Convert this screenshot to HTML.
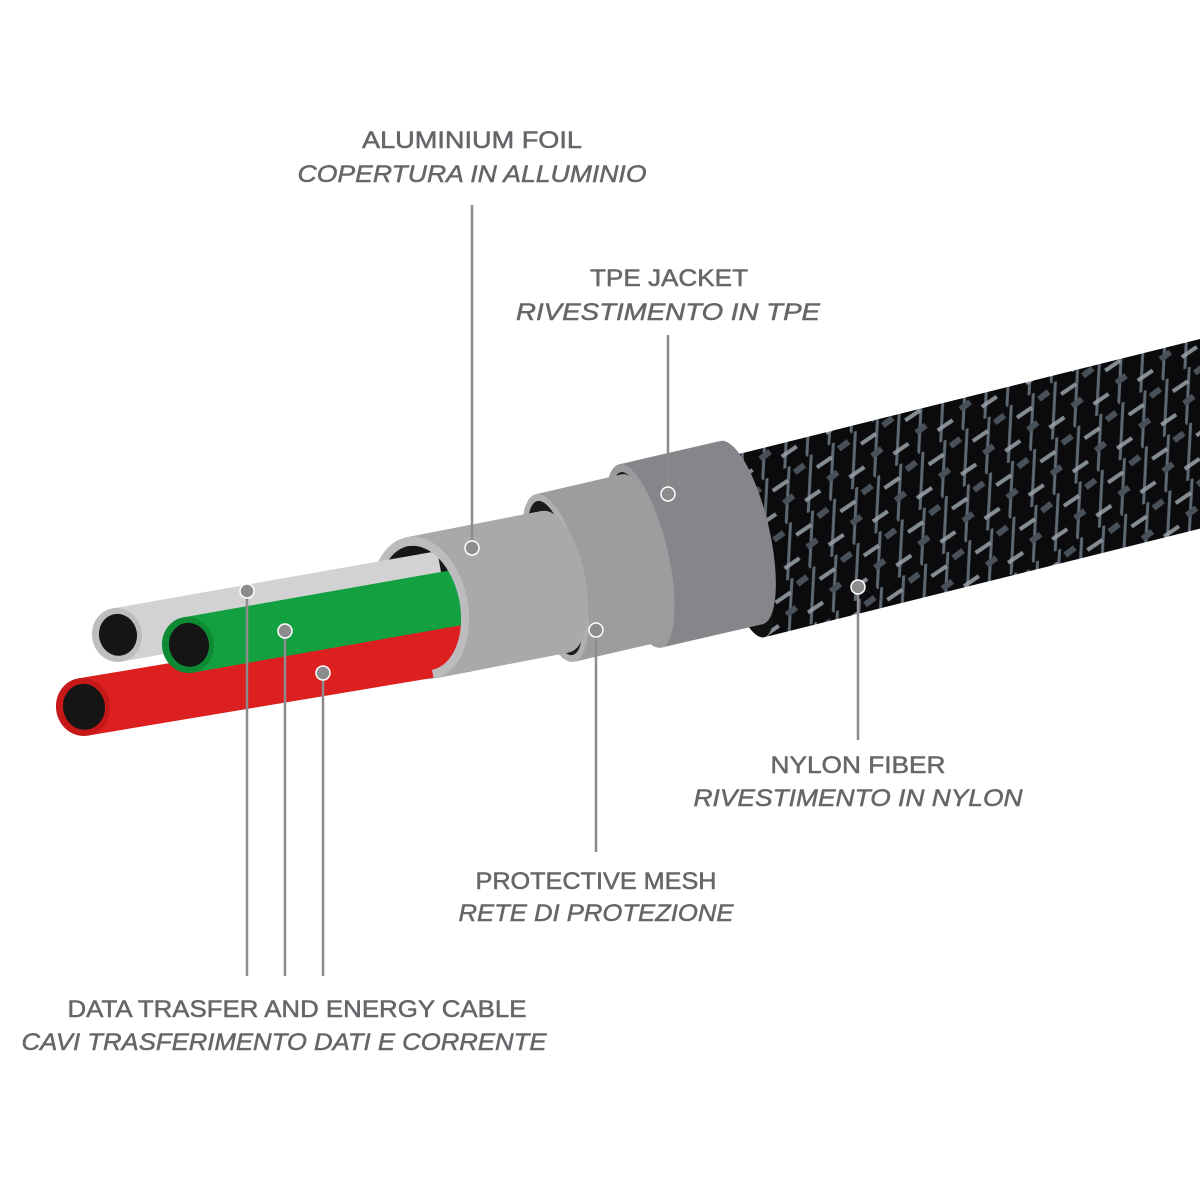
<!DOCTYPE html>
<html><head><meta charset="utf-8"><style>
html,body{margin:0;padding:0;background:#fff;}
svg{display:block;}
text{font-family:"Liberation Sans",sans-serif;font-size:24px;fill:#65666a;stroke:#65666a;stroke-width:0.5;text-anchor:middle;}
.i{font-style:italic;}
</style></head><body>
<svg width="1200" height="1200" viewBox="0 0 1200 1200" xmlns="http://www.w3.org/2000/svg">
<defs>
<pattern id="braid" width="50" height="50" patternUnits="userSpaceOnUse" patternTransform="rotate(-14)">
<rect width="50" height="50" fill="#0b0b0d"/>
<path d="M0,50 L30,0 M25,50 L55,0 M-25,50 L5,0" stroke="#5e6872" stroke-width="3" fill="none"/>
<path d="M4,14 L22,12 M28,38 L46,36" stroke="#9aa4ac" stroke-width="4" fill="none" opacity="0.85"/>
<path d="M8,30 L20,28 M32,8 L44,6" stroke="#48505a" stroke-width="6" fill="none"/>
</pattern>
<mask id="hm" maskUnits="userSpaceOnUse" x="0" y="0" width="1200" height="1200">
<rect width="1200" height="1200" fill="#fff"/>
<ellipse cx="0" cy="0" rx="40" ry="63" fill="#000" transform="translate(420,608) rotate(-11)"/>
</mask>
</defs>

<!-- jacket -->
<g transform="translate(742,548) rotate(-14)">
<rect x="0" y="-92" width="560" height="184" fill="url(#braid)"/>
<ellipse cx="0" cy="0" rx="24" ry="92" fill="#111"/>
</g>
<!-- TPE ring -->
<g transform="translate(640,556) rotate(-13)">
<rect x="0" y="-94" width="104" height="188" fill="#86868a"/>
<ellipse cx="104" cy="0" rx="28" ry="94" fill="#86868a"/>
<ellipse cx="0" cy="0" rx="28" ry="94" fill="#9a9a9c"/>
<ellipse cx="0" cy="0" rx="22" ry="86" fill="#1a1a1a"/>
</g>
<!-- mesh ring -->
<g transform="translate(555,578) rotate(-13)">
<rect x="0" y="-86" width="88" height="172" fill="#9d9d9f"/>
<ellipse cx="88" cy="0" rx="28" ry="86" fill="#9d9d9f"/>
<ellipse cx="0" cy="0" rx="28" ry="86" fill="#b0b0b2"/>
<ellipse cx="0" cy="0" rx="22" ry="79" fill="#1a1a1a"/>
</g>
<!-- foil -->
<g transform="translate(420,608) rotate(-11)">
<rect x="0" y="-72" width="138" height="144" fill="#a9a9ab"/>
<ellipse cx="138" cy="0" rx="30" ry="72" fill="#a9a9ab"/>
<ellipse cx="0" cy="0" rx="48" ry="72" fill="#bcbcbe"/>
<ellipse cx="0" cy="0" rx="40" ry="63" fill="#161616"/>
</g>

<!-- wires -->
<g transform="translate(117,635) rotate(-10)">
<rect x="0" y="-27" width="330" height="54" fill="#d2d2d4"/>
<ellipse cx="0" cy="0" rx="25" ry="27" fill="#bdbdbf"/>
<ellipse cx="1" cy="0" rx="19" ry="21" fill="#151515"/>
</g>
<g transform="translate(83,707) rotate(-9.5)">
<rect x="0" y="-29" width="390" height="58" fill="#dc1f1f"/>
<ellipse cx="0" cy="0" rx="27" ry="29" fill="#c61818"/>
<ellipse cx="1" cy="0" rx="21" ry="23" fill="#151515"/>
</g>
<g transform="translate(188,645) rotate(-10)">
<rect x="0" y="-28" width="290" height="56" fill="#13a040"/>
<ellipse cx="0" cy="0" rx="26" ry="28" fill="#0e8a34"/>
<ellipse cx="1" cy="0" rx="20" ry="22" fill="#151515"/>
</g>

<!-- foil body over wire ends, with hole cut out -->
<g mask="url(#hm)">
<g transform="translate(420,608) rotate(-11)">
<rect x="0" y="-72" width="138" height="144" fill="#a9a9ab"/>
<path d="M0,-72 A48,72 0 0 1 0,72 Z" fill="#bcbcbe"/>
</g>
</g>

<!-- leader lines -->
<g stroke="#8c8c8e" stroke-width="2.5" fill="none">
<line x1="472" y1="205" x2="472" y2="548"/>
<line x1="668" y1="335" x2="668" y2="494"/>
<line x1="858" y1="587" x2="858" y2="740"/>
<line x1="596" y1="630" x2="596" y2="852"/>
<line x1="247" y1="591" x2="247" y2="976"/>
<line x1="285" y1="631" x2="285" y2="976"/>
<line x1="323" y1="673" x2="323" y2="976"/>
</g>
<g fill="#8c8c8e" stroke="#fff" stroke-width="1.5">
<circle cx="472" cy="548" r="7"/>
<circle cx="668" cy="494" r="7"/>
<circle cx="858" cy="587" r="7"/>
<circle cx="596" cy="630" r="7"/>
<circle cx="247" cy="591" r="7"/>
<circle cx="285" cy="631" r="7"/>
<circle cx="323" cy="673" r="7"/>
</g>

<!-- labels -->
<text x="472" y="148" textLength="220" lengthAdjust="spacingAndGlyphs">ALUMINIUM FOIL</text>
<text class="i" x="472" y="182" textLength="349" lengthAdjust="spacingAndGlyphs">COPERTURA IN ALLUMINIO</text>
<text x="669" y="286" textLength="158" lengthAdjust="spacingAndGlyphs">TPE JACKET</text>
<text class="i" x="668" y="320" textLength="304" lengthAdjust="spacingAndGlyphs">RIVESTIMENTO IN TPE</text>
<text x="858" y="773" textLength="175" lengthAdjust="spacingAndGlyphs">NYLON FIBER</text>
<text class="i" x="858" y="806" textLength="329" lengthAdjust="spacingAndGlyphs">RIVESTIMENTO IN NYLON</text>
<text x="596" y="889" textLength="241" lengthAdjust="spacingAndGlyphs">PROTECTIVE MESH</text>
<text class="i" x="596" y="921" textLength="275" lengthAdjust="spacingAndGlyphs">RETE DI PROTEZIONE</text>
<text x="297" y="1017" textLength="459" lengthAdjust="spacingAndGlyphs">DATA TRASFER AND ENERGY CABLE</text>
<text class="i" x="284" y="1050" textLength="525" lengthAdjust="spacingAndGlyphs">CAVI TRASFERIMENTO DATI E CORRENTE</text>
</svg>
</body></html>
